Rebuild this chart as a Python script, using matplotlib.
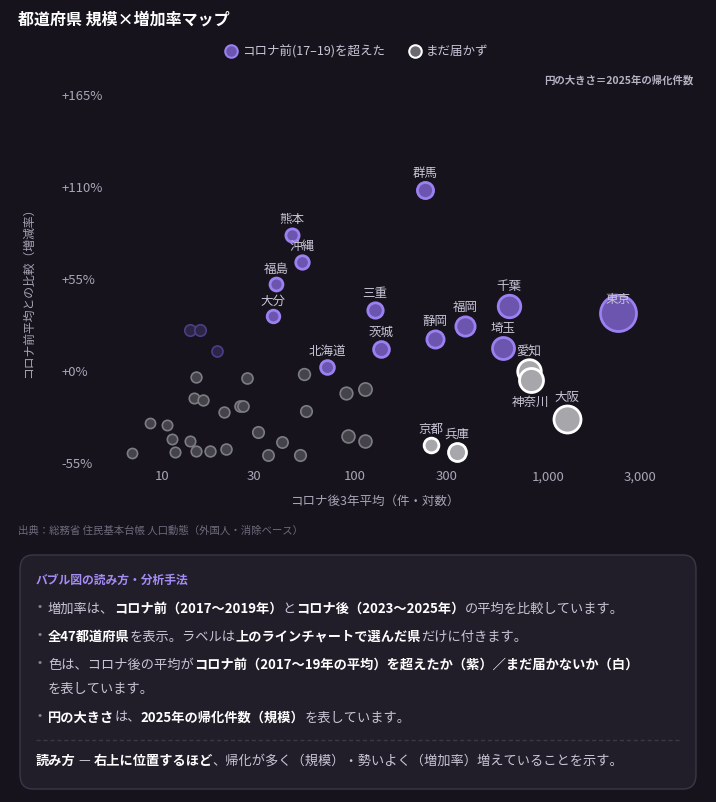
import numpy as np
import matplotlib
matplotlib.use("Agg")
import matplotlib.pyplot as plt
from matplotlib.patches import FancyBboxPatch
from matplotlib.lines import Line2D

plt.rcParams['font.family'] = ['Noto Sans CJK JP', 'DejaVu Sans']

# ---- data ----
labeled_names = ["群馬", "熊本", "沖縄", "福島", "大分", "三重", "茨城", "北海道", "静岡", "福岡",
                 "千葉", "埼玉", "東京", "愛知", "神奈川", "大阪", "京都", "兵庫"]
labeled_avg = [231, 47, 53, 39, 37.6, 127, 136, 72, 260, 372, 628, 585, 2306, 798, 817, 1253, 248, 337]
labeled_rate = [107.6, 80.7, 64.6, 51.4, 32.3, 35.9, 12.6, 1.8, 18.5, 26.3, 38.3, 13.2, 34.1, -0.6, -6.0, -29.3, -44.9, -49.0]
labeled_count = [220, 90, 100, 80, 70, 180, 200, 110, 280, 420, 700, 650, 2600, 800, 850, 1200, 150, 330]
labeled_above = [True]*13 + [False]*5

other_avg = [14.0, 15.7, 19.3,
             15.0, 27.5, 54.5, 89.8, 113, 14.6, 16.3, 25.3, 26.3, 20.9, 55.7, 8.7,
             10.6, 31.4, 92.0, 11.3, 14.0, 41.9, 113, 7.0, 11.7, 15.0, 17.7, 21.5, 35.4, 51.9]
other_rate = [23.9, 23.9, 11.4,
              -4.2, -4.8, -2.4, -13.8, -11.4, -16.7, -17.9, -21.5, -21.5, -25.1, -24.5, -31.7,
              -32.9, -37.1, -39.5, -41.3, -42.5, -43.1, -42.5, -49.6, -49.0, -48.4, -48.4, -47.2, -50.8, -50.8]
other_count = [40, 40, 30,
               25, 30, 45, 70, 90, 20, 25, 30, 30, 25, 40, 15,
               18, 40, 80, 18, 20, 35, 80, 15, 20, 22, 25, 28, 35, 40]
other_above = [True]*3 + [False]*26

xticks = [10, 30, 100, 300, 1000, 3000]
xticklabels = ["10", "30", "100", "300", "1,000", "3,000"]
yticks = [-55, 0, 55, 110, 165]
yticklabels = ["-55%", "+0%", "+55%", "+110%", "+165%"]

BG = "#16131d"
W, H = 716, 803
fig = plt.figure(figsize=(W/100, H/100), dpi=100, facecolor=BG)

def fx(px): return px / W
def fy(py): return 1 - py / H

ax = fig.add_axes([fx(120), fy(466), fx(690) - fx(120), fy(85) - fy(466)])
ax.set_facecolor(BG)
ax.set_xscale("log")
ax.set_xlim(6.05, 5450)
ax.set_ylim(-56.8, 171)
for s in ax.spines.values():
    s.set_visible(False)
ax.set_xticks(xticks)
ax.set_xticklabels(xticklabels)
ax.xaxis.set_minor_locator(matplotlib.ticker.NullLocator())
ax.set_yticks(yticks)
ax.set_yticklabels(yticklabels)
ax.tick_params(colors="#a9a5b6", labelsize=9.5, length=0, pad=3)
ax.tick_params(axis='y', pad=42)
for t in ax.get_yticklabels():
    t.set_horizontalalignment('left')
ax.set_clip_on(False)

def rad(c):
    return 4 + 14 * np.sqrt(c / 2600)

def area(r):
    return (2 * r * 0.72) ** 2

# unlabeled
for a, r, c, up in zip(other_avg, other_rate, other_count, other_above):
    rr = rad(c)
    if up:
        ax.scatter(a, r, s=area(rr), facecolor="#2c2545", edgecolor="#4c3f85", linewidth=1.2, zorder=2, clip_on=False)
    else:
        ax.scatter(a, r, s=area(rr), facecolor="#45434a", edgecolor="#7d7b84", linewidth=1.2, zorder=2, clip_on=False)

# labeled
for n, a, r, c, up in zip(labeled_names, labeled_avg, labeled_rate, labeled_count, labeled_above):
    rr = rad(c)
    if up:
        ax.scatter(a, r, s=area(rr), facecolor="#6b55ae", edgecolor="#9b80f2", linewidth=2, zorder=3, clip_on=False)
    else:
        ax.scatter(a, r, s=area(rr), facecolor="#a7a6ab", edgecolor="#ffffff", linewidth=2, zorder=3, clip_on=False)
    if n == "神奈川":
        ax.annotate(n, (a, r), xytext=(0, -(rr + 3)), textcoords="offset pixels", ha="center", va="top",
                    color="#c9c5d6", fontsize=9, zorder=5)
    elif n == "東京":
        ax.annotate(n, (a, r), xytext=(0, 8), textcoords="offset pixels", ha="center", va="bottom",
                    color="#c9c5d6", fontsize=9, zorder=5)
    else:
        ax.annotate(n, (a, r), xytext=(0, rr + 3), textcoords="offset pixels", ha="center", va="bottom",
                    color="#c9c5d6", fontsize=9, zorder=5)

# titles, legend
fig.text(fx(18), fy(20), "都道府県 規模×増加率マップ", color="#ffffff", fontsize=11.5, fontweight="bold", va="center")
fig.add_artist(Line2D([fx(231)], [fy(52)], marker="o", markersize=9, markerfacecolor="#6b55ae",
                      markeredgecolor="#9b80f2", markeredgewidth=1.5, linestyle="none"))
fig.text(fx(242), fy(52), "コロナ前(17–19)を超えた", color="#c9c5d6", fontsize=9, va="center")
fig.add_artist(Line2D([fx(415)], [fy(52)], marker="o", markersize=9, markerfacecolor="#6a6970",
                      markeredgecolor="#ffffff", markeredgewidth=1.5, linestyle="none"))
fig.text(fx(426), fy(52), "まだ届かず", color="#c9c5d6", fontsize=9, va="center")
fig.text(fx(693), fy(80), "円の大きさ＝2025年の帰化件数", color="#b6b2c2", fontsize=7.5, fontweight="bold", ha="right", va="center")
fig.text(fx(28), fy(290), "コロナ前平均との比較（増減率）", color="#a9a5b6", fontsize=8.5, rotation=90, ha="center", va="center")
fig.text(fx(375), fy(501), "コロナ後3年平均（件・対数）", color="#a9a5b6", fontsize=9, ha="center", va="center")
fig.text(fx(18), fy(531), "出典：総務省 住民基本台帳 人口動態（外国人・消除ベース）", color="#6f6b7c", fontsize=7.5, va="center")

# info box
box = FancyBboxPatch((fx(20), fy(790)), fx(696) - fx(20), fy(556) - fy(790),
                     boxstyle="round,pad=0,rounding_size=0.018", transform=fig.transFigure,
                     facecolor="#211e29", edgecolor="#3b3747", linewidth=1)
fig.add_artist(box)
fig.text(fx(36), fy(580), "バブル図の読み方・分析手法", color="#a58cf5", fontsize=8.5, fontweight="bold", va="center")

renderer = fig.canvas.get_renderer()

def runs(x, y, parts, color="#c9c5d6", size=9.5):
    cur = x
    for txt, bold in parts:
        t = fig.text(fx(cur), fy(y), txt, color="#ffffff" if bold else color, fontsize=size,
                     fontweight="bold" if bold else "normal", va="center")
        cur += t.get_window_extent(renderer).width

bullets = [
    (609, [("増加率は、", False), ("コロナ前（2017〜2019年）", True), ("と", False), ("コロナ後（2023〜2025年）", True), ("の平均を比較しています。", False)]),
    (637, [("全47都道府県", True), ("を表示。ラベルは", False), ("上のラインチャートで選んだ県", True), ("だけに付きます。", False)]),
    (665, [("色は、コロナ後の平均が", False), ("コロナ前（2017〜19年の平均）を超えたか（紫）／まだ届かないか（白）", True)]),
    (718, [("円の大きさ", True), ("は、", False), ("2025年の帰化件数（規模）", True), ("を表しています。", False)]),
]
for y, parts in bullets:
    fig.text(fx(37), fy(y - 2), "•", color="#8a8698", fontsize=9, va="center")
    runs(48, y, parts)
runs(48, 689, [("を表しています。", False)])

fig.add_artist(Line2D([fx(36), fx(680)], [fy(741), fy(741)], color="#3b3747", linewidth=1, linestyle=(0, (3, 2))))
runs(36, 761, [("読み方", True), (" — ", False), ("右上に位置するほど", True),
               ("、帰化が多く（規模）・勢いよく（増加率）増えていることを示す。", False)])

fig.savefig("out.png", dpi=100, facecolor=BG)
